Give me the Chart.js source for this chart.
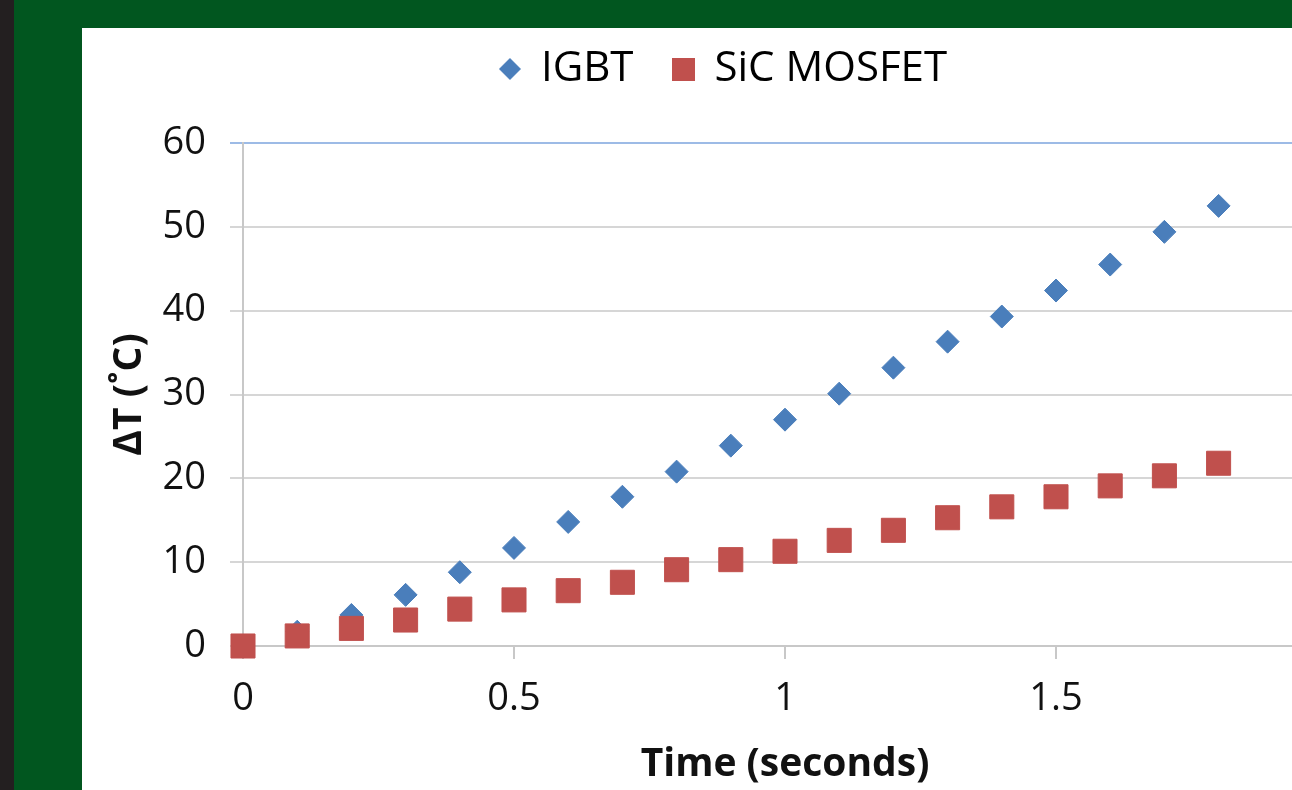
<!DOCTYPE html>
<html>
<head>
<meta charset="utf-8">
<script src="https://cdn.jsdelivr.net/npm/chart.js@4.4.0/dist/chart.umd.min.js"></script>
<style>
    html, body { margin: 0; padding: 0; width: 1292px; height: 790px; overflow: hidden; }
    body { background: #01561f; position: relative; }
    .strip { position: absolute; left: 0; top: 0; width: 14px; height: 790px; background: #231f20; }
    .panel { position: absolute; left: 82px; top: 28px; width: 1282px; height: 762px; background: #fff; }
</style>
</head>
<body>
<div class="strip"></div>
<div class="panel"><canvas id="tempChart"></canvas></div>
<script>
// Temperature rise vs time
const times = [0, 0.1, 0.2, 0.3, 0.4, 0.5, 0.6, 0.7, 0.8, 0.9, 1.0, 1.1, 1.2, 1.3, 1.4, 1.5, 1.6, 1.7, 1.8];
const igbtValues = [0, 1.7, 3.7, 6.1, 8.8, 11.7, 14.8, 17.8, 20.8, 23.9, 27.0, 30.1, 33.2, 36.3, 39.3, 42.4, 45.5, 49.4, 52.5];
const sicValues = [0, 1.2, 2.1, 3.1, 4.4, 5.5, 6.6, 7.6, 9.1, 10.3, 11.3, 12.6, 13.8, 15.3, 16.6, 17.8, 19.1, 20.3, 21.8];
const seriesNames = ['IGBT', 'SiC MOSFET'];
const xTicks = [0, 0.5, 1, 1.5, 2];
const yTicks = [0, 10, 20, 30, 40, 50, 60];

const FONT = "'Open Sans', sans-serif";
const BLUE = '#4a7ebb';
const RED = '#c0504d';

function toPoints(values) {
    return times.map((t, i) => ({ x: t, y: values[i] }));
}

/**
 * Small canvas marker used for the legend (the legend markers are smaller than the plot ones)
 */
function makeMarker(shape, color) {
    const size = shape === 'diamond' ? 22 : 23;
    const c = document.createElement('canvas');
    c.width = size;
    c.height = size;
    const g = c.getContext('2d');
    g.fillStyle = color;
    if (shape === 'diamond') {
        g.beginPath();
        g.moveTo(size / 2, 0);
        g.lineTo(size, size / 2);
        g.lineTo(size / 2, size);
        g.lineTo(0, size / 2);
        g.closePath();
        g.fill();
    } else {
        g.fillRect(0, 0, size, size);
    }
    return c;
}

const legendMarkers = [makeMarker('diamond', BLUE), makeMarker('square', RED)];

// Make the legend box taller so the plot starts lower, like the original
const legendSpacer = {
    id: 'legendSpacer',
    beforeInit(chart) {
        if (!chart.legend) return;
        const origFit = chart.legend.fit;
        chart.legend.fit = function() {
            origFit.call(this);
            this.height = 135;
        };
    }
};

document.addEventListener('DOMContentLoaded', function() {
    const ctx = document.getElementById('tempChart').getContext('2d');
    new Chart(ctx, {
        type: 'scatter',
        data: {
            datasets: [
                {
                    label: seriesNames[0],
                    data: toPoints(igbtValues),
                    pointStyle: 'rectRot',
                    pointRadius: 11.5,
                    backgroundColor: BLUE,
                    borderColor: BLUE,
                    borderWidth: 1,
                    clip: false,
                    order: 1
                },
                {
                    label: seriesNames[1],
                    data: toPoints(sicValues),
                    pointStyle: 'rect',
                    pointRadius: 17,
                    backgroundColor: RED,
                    borderColor: RED,
                    borderWidth: 1,
                    clip: false,
                    order: 0
                }
            ]
        },
        options: {
            responsive: true,
            maintainAspectRatio: false,
            devicePixelRatio: 1,
            animation: false,
            layout: { padding: { top: -20, right: 37, bottom: 0, left: 38 } },
            plugins: {
                tooltip: { enabled: false },
                legend: {
                    position: 'top',
                    labels: {
                        usePointStyle: true,
                        boxWidth: 20,
                        boxHeight: 20,
                        padding: 40,
                        color: '#000',
                        font: { family: FONT, size: 42 },
                        sort: (a, b) => a.datasetIndex - b.datasetIndex,
                        generateLabels: chart => {
                            const items = Chart.defaults.plugins.legend.labels.generateLabels(chart);
                            items.forEach(item => { item.pointStyle = legendMarkers[item.datasetIndex]; });
                            return items;
                        }
                    }
                }
            },
            scales: {
                x: {
                    type: 'linear',
                    min: 0,
                    max: 2,
                    afterFit: scale => { scale.height = 144; },
                    afterBuildTicks: scale => { scale.ticks = xTicks.map(v => ({ value: v })); },
                    border: { color: '#c8c8c8', width: 2 },
                    grid: { drawOnChartArea: false, drawTicks: true, tickLength: 13, color: '#c8c8c8', lineWidth: 2 },
                    ticks: {
                        color: '#111',
                        padding: 17,
                        font: { family: FONT, size: 38 },
                        callback: v => String(v)
                    },
                    title: {
                        display: true,
                        text: 'Time (seconds)',
                        color: '#111',
                        font: { family: FONT, size: 39, weight: 'bold' },
                        padding: { top: 0, bottom: 2 }
                    }
                },
                y: {
                    min: 0,
                    max: 60,
                    afterFit: scale => { scale.width = 123; },
                    afterBuildTicks: scale => { scale.ticks = yTicks.map(v => ({ value: v })); },
                    border: { color: '#c8c8c8', width: 2 },
                    grid: {
                        color: c => c.tick && c.tick.value === 60 ? '#9dbbe6' : '#d6d6d6',
                        lineWidth: 2,
                        tickLength: 13
                    },
                    ticks: { color: '#111', padding: 24, font: { family: FONT, size: 38 } },
                    title: {
                        display: true,
                        text: 'ΔT (˚C)',
                        color: '#111',
                        font: { family: FONT, size: 39, weight: 'bold' },
                        padding: { top: -14, bottom: 0 }
                    }
                }
            }
        },
        plugins: [legendSpacer]
    });
});
</script>
</body>
</html>
